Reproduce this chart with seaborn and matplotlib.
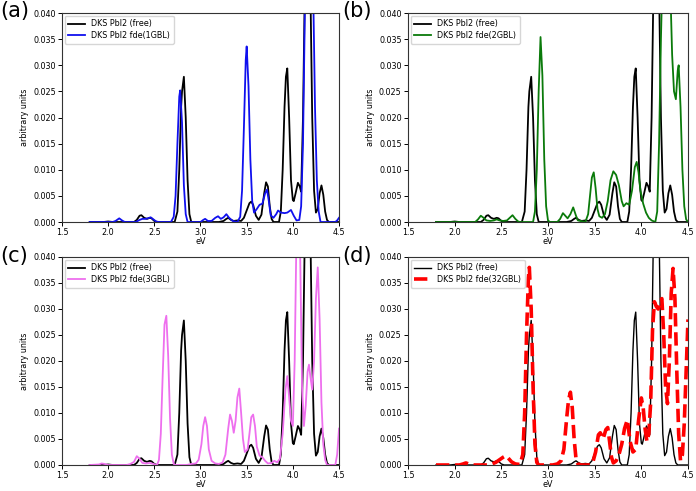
import matplotlib
matplotlib.use("Agg")
import matplotlib.pyplot as plt
import seaborn as sns
import numpy as np

# ---------------- data ----------------
free_x = [1.80, 1.95, 2.00, 2.05, 2.28, 2.31, 2.34, 2.36, 2.39, 2.42, 2.45, 2.47, 2.50, 2.53,
          2.72, 2.75, 2.77, 2.79, 2.80, 2.82, 2.84, 2.86, 2.88, 2.90,
          3.20, 3.25, 3.28, 3.30, 3.33, 3.36, 3.40, 3.44, 3.47, 3.50, 3.53, 3.55, 3.57, 3.60,
          3.63, 3.66, 3.69, 3.71, 3.73, 3.75, 3.77, 3.79, 3.85, 3.87, 3.89, 3.91, 3.925, 3.94,
          3.96, 3.98, 4.00, 4.01, 4.03, 4.055, 4.075, 4.09, 4.11, 4.13, 4.16, 4.19, 4.21, 4.23,
          4.25, 4.27, 4.29, 4.31, 4.33, 4.35, 4.37, 4.39, 4.50]
free_y = [0, 0, 0.0001, 0, 0, 0.0004, 0.0012, 0.0013, 0.0008, 0.0006, 0.0008, 0.0007, 0.0002, 0,
          0, 0.002, 0.010, 0.022, 0.025, 0.0278, 0.020, 0.008, 0.0015, 0,
          0, 0.0002, 0.0006, 0.0008, 0.0004, 0.0002, 0.0003, 0.0002, 0.0008, 0.0022, 0.0036, 0.0039, 0.0033, 0.0012,
          0.0004, 0.0014, 0.0055, 0.0076, 0.0068, 0.0030, 0.0006, 0, 0, 0.002, 0.010, 0.022, 0.0278, 0.0294,
          0.020, 0.008, 0.0042, 0.0040, 0.0055, 0.0075, 0.0068, 0.0058, 0.020, 0.045, 0.060, 0.045, 0.020, 0.006,
          0.0018, 0.0025, 0.0055, 0.0070, 0.0052, 0.0020, 0.0004, 0, 0]

gbl1_x = [1.80, 2.05, 2.08, 2.12, 2.15, 2.18, 2.30, 2.34, 2.37, 2.40, 2.43, 2.46, 2.49, 2.52, 2.55,
          2.68, 2.71, 2.73, 2.75, 2.77, 2.78, 2.80, 2.82, 2.84, 2.86,
          3.00, 3.03, 3.05, 3.08, 3.12, 3.16, 3.19, 3.22, 3.25, 3.28, 3.31, 3.35, 3.40,
          3.43, 3.45, 3.47, 3.49, 3.50, 3.52, 3.54, 3.56, 3.58, 3.61, 3.64, 3.67, 3.70, 3.72,
          3.74, 3.76, 3.79, 3.82, 3.84, 3.87, 3.91, 3.94, 3.98, 4.01, 4.04, 4.07, 4.09, 4.11,
          4.13, 4.16, 4.19, 4.22, 4.24, 4.26, 4.28, 4.30, 4.46, 4.48, 4.50]
gbl1_y = [0, 0, 0.0002, 0.0007, 0.0003, 0, 0, 0.0004, 0.0006, 0.0006, 0.0007, 0.0009, 0.0005, 0.0001, 0,
          0, 0.001, 0.005, 0.015, 0.024, 0.0252, 0.019, 0.007, 0.0015, 0,
          0, 0.0004, 0.0006, 0.0002, 0.0002, 0.0008, 0.0011, 0.0006, 0.0009, 0.0015, 0.0008, 0.0002, 0,
          0.001, 0.006, 0.018, 0.031, 0.0336, 0.026, 0.012, 0.004, 0.0018, 0.0025, 0.0033, 0.0035, 0.0055, 0.0062,
          0.0040, 0.0013, 0.0008, 0.0015, 0.0022, 0.0018, 0.0017, 0.0018, 0.0023, 0.0012, 0.0003, 0.0004, 0.003, 0.015,
          0.040, 0.062, 0.065, 0.045, 0.022, 0.008, 0.002, 0, 0, 0.0003, 0.0008]

gbl2_x = [1.80, 2.22, 2.25, 2.28, 2.31, 2.34, 2.38, 2.42, 2.45, 2.48, 2.52, 2.56, 2.59, 2.62, 2.65, 2.68, 2.70,
          2.84, 2.86, 2.88, 2.90, 2.92, 2.94, 2.96, 2.98, 3.00, 3.02,
          3.10, 3.13, 3.16, 3.19, 3.21, 3.24, 3.27, 3.30, 3.32, 3.40,
          3.43, 3.45, 3.47, 3.49, 3.51, 3.53, 3.55, 3.58, 3.61, 3.64, 3.67, 3.70, 3.73, 3.76,
          3.79, 3.81, 3.84, 3.87, 3.90, 3.93, 3.95, 3.97, 3.99, 4.02, 4.05, 4.08, 4.11, 4.15,
          4.17, 4.19, 4.21, 4.23, 4.27, 4.31, 4.33, 4.35, 4.37, 4.39, 4.40, 4.42, 4.44, 4.46, 4.48, 4.50]
gbl2_y = [0, 0, 0.0005, 0.0012, 0.0008, 0.0003, 0.0002, 0.0003, 0.0005, 0.0003, 0.0002, 0.0003, 0.0008, 0.0013, 0.0006, 0.0001, 0,
          0, 0.002, 0.010, 0.025, 0.0354, 0.028, 0.012, 0.003, 0.0003, 0,
          0, 0.0006, 0.0017, 0.0011, 0.0007, 0.0015, 0.0028, 0.0012, 0.0003, 0,
          0.0015, 0.005, 0.0085, 0.0095, 0.0065, 0.0025, 0.0011, 0.0008, 0.0015, 0.0040, 0.0080, 0.0097, 0.0090, 0.0070,
          0.0040, 0.0030, 0.0036, 0.0033, 0.0060, 0.0105, 0.0115, 0.0095, 0.0060, 0.0035, 0.0018, 0.0008, 0.0003, 0,
          0.002, 0.015, 0.035, 0.050, 0.060, 0.045, 0.032, 0.025, 0.0235, 0.029, 0.030, 0.022, 0.010, 0.003, 0.0005, 0]

gbl3_x = [1.80, 1.90, 1.93, 1.96, 2.00, 2.20, 2.24, 2.28, 2.31, 2.34, 2.37, 2.41, 2.45, 2.49, 2.53,
          2.55, 2.57, 2.59, 2.61, 2.63, 2.65, 2.67, 2.69, 2.71, 2.73,
          2.85, 2.90, 2.95, 2.98, 3.01, 3.03, 3.05, 3.07, 3.09, 3.12, 3.16, 3.20, 3.24, 3.27,
          3.30, 3.32, 3.34, 3.36, 3.38, 3.40, 3.42, 3.44, 3.46, 3.48, 3.51, 3.53, 3.55, 3.57,
          3.59, 3.61, 3.64, 3.67, 3.70, 3.73, 3.77, 3.80, 3.83, 3.86, 3.89, 3.92, 3.94, 3.96,
          3.98, 4.00, 4.02, 4.04, 4.06, 4.08, 4.10, 4.12, 4.14, 4.16, 4.175, 4.19, 4.21, 4.23,
          4.25, 4.27, 4.29, 4.31, 4.33, 4.35, 4.37, 4.46, 4.48, 4.50]
gbl3_y = [0, 0.0001, 0.0003, 0.0002, 0, 0, 0.0002, 0.0006, 0.0017, 0.0012, 0.0004, 0.0003, 0.0004, 0.0002, 0,
          0.001, 0.006, 0.017, 0.027, 0.0287, 0.021, 0.009, 0.002, 0.0002, 0,
          0, 0.0002, 0.0003, 0.001, 0.004, 0.0075, 0.0092, 0.0075, 0.003, 0.0008, 0.0003, 0.0002, 0.0005, 0.002,
          0.007, 0.0097, 0.0085, 0.0062, 0.0085, 0.013, 0.0147, 0.010, 0.005, 0.0025, 0.003, 0.006, 0.0092, 0.0097,
          0.0075, 0.0035, 0.0018, 0.0015, 0.0008, 0.0003, 0.0004, 0.0008, 0.0005, 0.0012, 0.006, 0.0145, 0.0171, 0.013,
          0.0085, 0.0075, 0.020, 0.045, 0.060, 0.040, 0.015, 0.0075, 0.0115, 0.0180, 0.0193, 0.017, 0.0145, 0.020,
          0.032, 0.038, 0.028, 0.012, 0.004, 0.001, 0, 0, 0.002, 0.007]

gbl32_x = [1.80, 2.05, 2.09, 2.12, 2.15, 2.18, 2.35, 2.40, 2.44, 2.48, 2.52, 2.55, 2.58, 2.61, 2.65, 2.70,
           2.73, 2.75, 2.77, 2.79, 2.80, 2.82, 2.84, 2.86, 2.88, 2.90,
           3.05, 3.10, 3.14, 3.17, 3.20, 3.22, 3.24, 3.26, 3.28, 3.30, 3.32, 3.35,
           3.45, 3.48, 3.51, 3.54, 3.56, 3.59, 3.62, 3.64, 3.66, 3.68, 3.70, 3.73, 3.76, 3.79,
           3.82, 3.85, 3.88, 3.91, 3.94, 3.97, 4.00, 4.02, 4.04, 4.06, 4.08, 4.10, 4.12, 4.14,
           4.16, 4.18, 4.20, 4.22, 4.24, 4.26, 4.28, 4.30, 4.32, 4.34, 4.36, 4.38, 4.40, 4.42,
           4.44, 4.46, 4.48, 4.50]
gbl32_y = [0, 0, 0.0002, 0.0004, 0.0002, 0, 0, 0.0002, 0.0005, 0.0010, 0.0015, 0.0018, 0.0012, 0.0006, 0.0002, 0.0001,
           0.002, 0.010, 0.025, 0.036, 0.038, 0.030, 0.015, 0.004, 0.0005, 0,
           0, 0.0002, 0.0008, 0.0030, 0.009, 0.0125, 0.0140, 0.011, 0.005, 0.0012, 0.0002, 0,
           0, 0.0005, 0.0025, 0.0058, 0.0062, 0.0050, 0.0068, 0.0072, 0.0045, 0.0015, 0.0004, 0.0008, 0.0020, 0.0040,
           0.0070, 0.0087, 0.0045, 0.0025, 0.0030, 0.0085, 0.0129, 0.0110, 0.0070, 0.0045, 0.0060, 0.0120, 0.0260, 0.0314,
           0.0305, 0.0300, 0.0315, 0.0320, 0.0250, 0.0150, 0.0118, 0.0200, 0.0330, 0.0378, 0.0320, 0.0180, 0.0060, 0.0008,
           0.0020, 0.0080, 0.0180, 0.0280]

panel_labels = ["(a)", "(b)", "(c)", "(d)"]
free_label = "DKS PbI2 (free)"
fde_labels = ["DKS PbI2 fde(1GBL)", "DKS PbI2 fde(2GBL)", "DKS PbI2 fde(3GBL)", "DKS PbI2 fde(32GBL)"]
x_ticks = [1.5, 2.0, 2.5, 3.0, 3.5, 4.0, 4.5]
y_ticks = [0.000, 0.005, 0.010, 0.015, 0.020, 0.025, 0.030, 0.035, 0.040]

fde_x = [gbl1_x, gbl2_x, gbl3_x, gbl32_x]
fde_y = [gbl1_y, gbl2_y, gbl3_y, gbl32_y]
fde_colors = ["#1010ee", "#0a7a0a", "#ee6fee", "#ff0000"]

# ---------------- figure ----------------
W, H = 696, 491
fig = plt.figure(figsize=(W / 100, H / 100), dpi=100)

boxes = [(62, 13, 339, 222), (408, 13, 688, 222), (62, 257, 339, 465), (408, 257, 688, 465)]
label_pos = [(0, 1), (342, 1), (0, 246), (342, 246)]
FS = 5.8

for i in range(4):
    l, t, r, b = boxes[i]
    ax = fig.add_axes([l / W, 1 - b / H, (r - l) / W, (b - t) / H])
    sns.lineplot(x=free_x, y=free_y, ax=ax, color="black",
                 linewidth=1.0 if i == 3 else 1.3, label=free_label,
                 sort=False, estimator=None)
    if i == 3:
        sns.lineplot(x=fde_x[i], y=fde_y[i], ax=ax, color=fde_colors[i], linewidth=2.6,
                     linestyle="--", label=fde_labels[i], sort=False, estimator=None)
    else:
        sns.lineplot(x=fde_x[i], y=fde_y[i], ax=ax, color=fde_colors[i], linewidth=1.3,
                     label=fde_labels[i], sort=False, estimator=None)
    ax.set_xlim(1.5, 4.5)
    ax.set_ylim(0, 0.040)
    ax.set_xticks(x_ticks)
    ax.set_yticks(y_ticks)
    ax.set_xticklabels([f"{v:.1f}" for v in x_ticks])
    ax.set_yticklabels([f"{v:.3f}" for v in y_ticks])
    ax.tick_params(labelsize=FS, length=3, width=0.7, pad=1.5)
    ax.set_xlabel("eV", fontsize=FS, labelpad=0)
    ax.set_ylabel("arbitrary units", fontsize=FS, labelpad=3)
    for s in ax.spines.values():
        s.set_linewidth(0.8)
        s.set_color("#333333")
    leg = ax.legend(loc="upper left", fontsize=FS, frameon=True, handlelength=2.0,
                    borderpad=0.45, labelspacing=0.35, handletextpad=0.8, borderaxespad=0.35)
    fig.text(label_pos[i][0] / W, 1 - label_pos[i][1] / H, panel_labels[i],
             fontsize=15, ha="left", va="top")

fig.savefig("out.png", dpi=100)
